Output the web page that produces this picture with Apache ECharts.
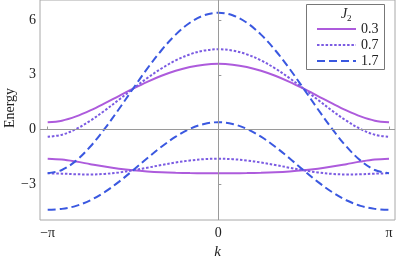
<!DOCTYPE html>
<html>
<head>
<meta charset="utf-8">
<script src="https://cdn.jsdelivr.net/npm/echarts@6/dist/echarts.min.js"></script>
<style>html,body{margin:0;padding:0;background:#fff;}#c{width:396px;height:256px;}</style>
</head>
<body>
<div id="c"></div>
<script>
// k in units of pi
const kValues = [-1, -0.9167, -0.8333, -0.75, -0.6667, -0.5833, -0.5, -0.4167, -0.3333, -0.25, -0.1667, -0.0833, 0,
  0.0833, 0.1667, 0.25, 0.3333, 0.4167, 0.5, 0.5833, 0.6667, 0.75, 0.8333, 0.9167, 1];
const j2Labels = ['0.3', '0.7', '1.7'];
const xTickLabels = ['\u2212\u03c0', '0', '\u03c0'];
const xTickValues = [-1, 0, 1];
const yTickValues = [-3, 0, 3, 6];
const yAxisTitle = 'Energy';

const upper03 = [0.40, 0.486, 0.720, 1.049, 1.432, 1.836, 2.236, 2.612, 2.946, 3.222, 3.429, 3.557, 3.60,
  3.557, 3.429, 3.222, 2.946, 2.612, 2.236, 1.836, 1.432, 1.049, 0.720, 0.486, 0.40];
const lower03 = [-1.60, -1.646, -1.759, -1.898, -2.032, -2.147, -2.236, -2.301, -2.346, -2.374, -2.390, -2.398, -2.40,
  -2.398, -2.390, -2.374, -2.346, -2.301, -2.236, -2.147, -2.032, -1.898, -1.759, -1.646, -1.60];
const upper07 = [-0.40, -0.286, 0.027, 0.484, 1.032, 1.629, 2.236, 2.819, 3.346, 3.788, 4.122, 4.330, 4.40,
  4.330, 4.122, 3.788, 3.346, 2.819, 2.236, 1.629, 1.032, 0.484, 0.027, -0.286, -0.40];
const lower07 = [-2.40, -2.418, -2.452, -2.464, -2.432, -2.354, -2.236, -2.094, -1.946, -1.808, -1.697, -1.625, -1.60,
  -1.625, -1.697, -1.808, -1.946, -2.094, -2.236, -2.354, -2.432, -2.464, -2.452, -2.418, -2.40];
const upper17 = [-2.40, -2.218, -1.705, -0.931, 0.032, 1.111, 2.236, 3.337, 4.346, 5.202, 5.854, 6.261, 6.40,
  6.261, 5.854, 5.202, 4.346, 3.337, 2.236, 1.111, 0.032, -0.931, -1.705, -2.218, -2.40];
const lower17 = [-4.40, -4.350, -4.184, -3.878, -3.432, -2.871, -2.236, -1.577, -0.946, -0.394, 0.035, 0.307, 0.40,
  0.307, 0.035, -0.394, -0.946, -1.577, -2.236, -2.871, -3.432, -3.878, -4.184, -4.350, -4.40];

const colors = ['#AD5BDC', '#7B5BE2', '#3A58E0'];
const dashes = ['solid', [2.5, 1.8], [8, 4]];
const bands = [[upper03, lower03], [upper07, lower07], [upper17, lower17]];

const pair = arr => kValues.map((k, i) => [k, arr[i]]);
const FONT = 'Liberation Serif';

const series = [];
bands.forEach((b, j) => {
  b.forEach((arr, bi) => {
    series.push({
      name: j2Labels[j],
      type: 'line',
      data: pair(arr),
      smooth: 0.35,
      showSymbol: false,
      symbol: 'none',
      lineStyle: { color: colors[j], width: 2, type: dashes[j] },
      itemStyle: { color: colors[j] },
      z: 3,
      markLine: (j === 0 && bi === 0) ? {
        silent: true, symbol: 'none', animation: false,
        label: { show: false },
        lineStyle: { color: '#9a9a9a', width: 1, type: 'solid' },
        data: [{ xAxis: 0 }, { yAxis: 0 }]
      } : undefined
    });
  });
});

const chart = echarts.init(document.getElementById('c'));
chart.setOption({
  animation: false,
  grid: { left: 40, right: 1, top: 0, bottom: 36, show: true, borderColor: '#a8a8a8', borderWidth: 1,
    outerBoundsMode: 'none', containLabel: false },
  xAxis: {
    type: 'value', min: -1.045, max: 1.035,
    name: 'k', nameLocation: 'middle', nameGap: 24,
    nameTextStyle: { fontFamily: FONT, fontStyle: 'italic', fontSize: 15, color: '#222' },
    axisLine: { show: false },
    splitLine: { show: false },
    axisTick: { show: true, inside: true, length: 3, customValues: xTickValues, lineStyle: { color: '#999' } },
    axisLabel: { customValues: xTickValues, formatter: v => xTickLabels[xTickValues.indexOf(Math.round(v))],
      fontFamily: FONT, fontSize: 14, color: '#222', margin: 6 }
  },
  yAxis: {
    type: 'value', min: -4.96, max: 7.1,
    axisLine: { show: false },
    splitLine: { show: false },
    axisTick: { show: true, inside: true, length: 3, customValues: yTickValues, lineStyle: { color: '#999' } },
    axisLabel: { customValues: yTickValues, formatter: v => (v < 0 ? '\u2212' + Math.abs(v) : String(v)),
      fontFamily: FONT, fontSize: 14, color: '#222', margin: 4 }
  },
  legend: {
    orient: 'vertical', left: 316, top: 22, itemWidth: 39, itemHeight: 12, itemGap: 2, padding: 0,
    data: j2Labels, z: 200, selectedMode: false,
    itemStyle: { opacity: 0, borderWidth: 0 },
    textStyle: { fontFamily: FONT, fontSize: 14, color: '#222', padding: [0, 0, 0, 0] }
  },
  graphic: [
    { type: 'text', x: 10, y: 108, rotation: Math.PI / 2,
      style: { text: yAxisTitle, font: '14px "Liberation Serif"', fill: '#222', align: 'center', verticalAlign: 'middle' } },
    { type: 'rect', z: 150, shape: { x: 306.5, y: 4.5, width: 78, height: 65 },
      style: { fill: '#fff', stroke: '#777', lineWidth: 1 } },
    { type: 'text', z: 160, left: 341, top: 7,
      style: { text: 'J', font: 'italic 14px "Liberation Serif"', fill: '#222' } },
    { type: 'text', z: 160, left: 347, top: 14,
      style: { text: '2', font: '9px "Liberation Serif"', fill: '#222' } }
  ],
  series: series
});
</script>
</body>
</html>
